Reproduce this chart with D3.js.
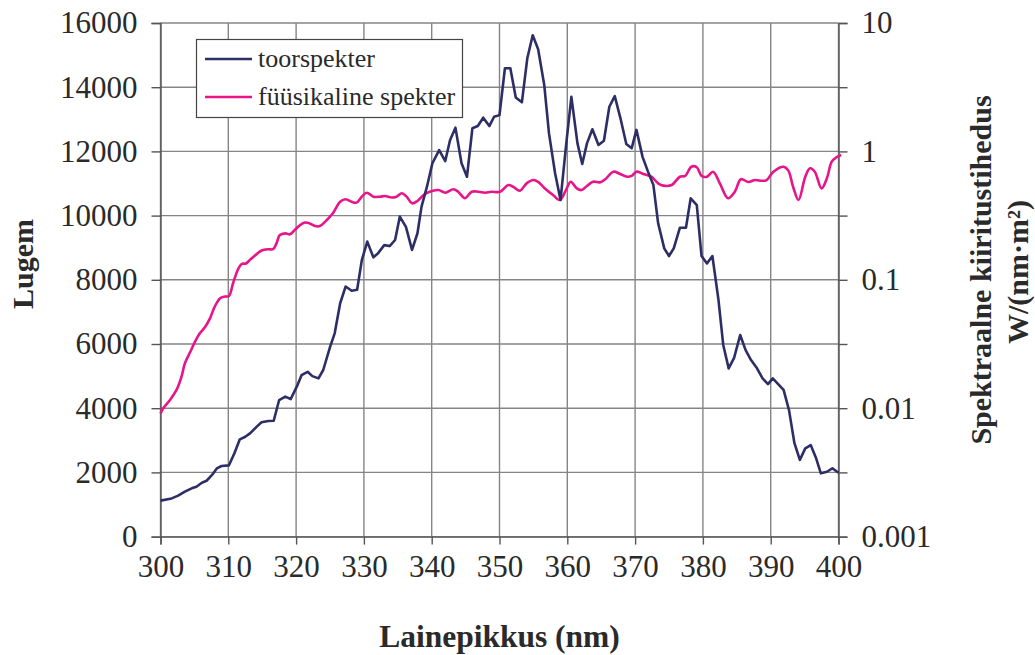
<!DOCTYPE html>
<html><head><meta charset="utf-8">
<script src="https://cdn.jsdelivr.net/npm/d3@7/dist/d3.min.js"></script>
<style>
body{margin:0;background:#fff;}
svg text{font-family:"Liberation Serif","Times New Roman",serif;fill:#2a2a2a;}
</style></head>
<body><svg id="c" width="1035" height="655"></svg>
<script>
// ---- data ----
const toorWl = [300,301.65,302.6,303.6,304.6,305.3,306.1,306.8,307.6,308.3,309,310.1,310.9,311.7,312.5,313.2,314.2,314.9,315.9,316.7,317.5,318.4,319.2,320.1,320.8,321.7,322.4,323.3,324,325,325.7,326.5,327.3,328.2,329,329.7,330.5,331.4,332.1,333,333.8,334.6,335.3,336.2,337.1,337.9,338.5,339.3,340.1,341.1,342,342.7,343.5,344.4,345.2,346,346.8,347.6,348.5,349.2,350,350.8,351.6,352.4,353.3,354.1,354.9,355.7,356.6,357.3,358.2,359,359.8,360.6,361.5,362.2,362.9,363.7,364.6,365.4,366.2,367,367.9,368.7,369.5,370.2,371.1,371.9,372.7,373.4,374.3,375,375.7,376.6,377.5,378.2,379.1,379.8,380.6,381.4,382.3,383,383.8,384.6,385.5,386.3,387.1,387.9,388.8,389.6,390.3,391.1,391.9,392.7,393.5,394.3,395.1,395.9,396.7,397.4,398.3,399.1,400];
const toorVal = [1120,1190,1275,1400,1505,1555,1680,1740,1920,2125,2200,2220,2595,3030,3110,3215,3425,3560,3600,3610,4255,4360,4285,4670,5030,5135,5000,4930,5190,5900,6340,7270,7790,7660,7690,8620,9190,8700,8830,9080,9050,9240,9970,9650,8930,9450,10280,10900,11630,12040,11700,12350,12740,11630,11210,12720,12790,13050,12790,13080,13130,14590,14590,13680,13530,14900,15620,15180,14070,12560,11320,10485,12150,13700,12250,11610,12250,12690,12200,12330,13390,13720,12980,12230,12100,12670,11830,11370,10950,9760,8980,8740,8980,9620,9620,10540,10330,8740,8510,8740,7370,5970,5240,5570,6280,5810,5500,5270,4930,4750,4930,4750,4570,3940,2910,2390,2750,2850,2440,1970,2020,2130,1990];

const fysWl = [300,300.4,301.4,302.4,303.1,303.6,304.4,305.1,305.8,306.6,307.3,308,308.8,309.5,310.1,310.7,311.5,312,312.6,313.2,313.9,314.9,315.9,316.6,317.1,317.6,318.4,319.1,319.8,320.6,321.3,322,322.8,323.5,324.3,325,325.5,326.5,327.3,328.2,328.9,329.7,330.4,331.4,332.4,333.1,334.1,334.8,335.6,336.3,337.1,337.9,338.8,339.7,341,342,343.2,343.9,344.9,345.9,346.9,347.9,348.8,350.1,351.3,352,353,354,355,355.7,356.7,357.9,358.9,359.8,360.5,361.4,362.1,362.9,363.8,364.8,365.6,366.8,367.8,368.8,369.5,370.2,371.2,372.4,373.4,374.2,375.4,376.6,377.4,378.3,379.1,379.8,380.6,381.5,382.5,383.7,384.7,385.6,386.7,387.7,388.7,389.4,390.4,391.9,392.6,393.3,394.1,395.1,395.8,396.5,397.5,398.3,399,399.7,400.4];
const fysVal = [0.0091,0.00998,0.0116,0.0140,0.0176,0.0224,0.0275,0.0330,0.0383,0.0431,0.0501,0.0618,0.0718,0.0740,0.0749,0.094,0.123,0.133,0.134,0.143,0.154,0.169,0.173,0.173,0.192,0.223,0.230,0.226,0.244,0.267,0.279,0.275,0.262,0.262,0.284,0.31,0.334,0.405,0.424,0.405,0.399,0.444,0.477,0.444,0.444,0.449,0.438,0.444,0.472,0.444,0.394,0.411,0.457,0.485,0.500,0.477,0.507,0.485,0.432,0.485,0.485,0.477,0.485,0.485,0.547,0.531,0.494,0.564,0.598,0.578,0.515,0.457,0.418,0.500,0.581,0.515,0.500,0.538,0.581,0.574,0.607,0.695,0.667,0.635,0.645,0.695,0.667,0.635,0.564,0.541,0.547,0.635,0.645,0.760,0.753,0.645,0.635,0.695,0.564,0.432,0.485,0.607,0.578,0.598,0.590,0.598,0.695,0.760,0.708,0.531,0.418,0.635,0.738,0.695,0.515,0.620,0.832,0.900,0.937];

const xTicks = [300,310,320,330,340,350,360,370,380,390,400];
const yLeftTicks = [0,2000,4000,6000,8000,10000,12000,14000,16000];
const yRightLabels = [0.001,0.01,0.1,1,10];
const seriesNames = ["toorspekter","füüsikaline spekter"];
const seriesColors = ["#2e2e66","#e8148a"];

// ---- layout ----
const L = 160.5, R = 838.5, T = 23, B = 536.6;
const svg = d3.select("#c");
const x = d3.scaleLinear().domain([300,400]).range([L,R]);
const yL = d3.scaleLinear().domain([0,16000]).range([B,T]);
const yR = d3.scaleLog().domain([0.001,10]).range([B,T]);

const grid = svg.append("g").attr("stroke","#858585").attr("stroke-width",1.4);
grid.selectAll("line.h").data(yLeftTicks).join("line")
  .attr("x1",L).attr("x2",R).attr("y1",d=>yL(d)).attr("y2",d=>yL(d));
grid.selectAll("line.v").data(xTicks).join("line")
  .attr("x1",d=>x(d)).attr("x2",d=>x(d)).attr("y1",T).attr("y2",B);

// axes
const fs = 31;
const ax = svg.append("g");
const left = ax.append("g").attr("transform",`translate(${L},0)`)
  .call(d3.axisLeft(yL).tickValues(yLeftTicks).tickSize(9).tickPadding(14).tickFormat(d3.format("d")));
const bottom = ax.append("g").attr("transform",`translate(0,${B})`)
  .call(d3.axisBottom(x).tickValues(xTicks).tickSize(8).tickPadding(10));
// right axis: ticks at each grid row, labels at decades
const rightTickVals = yLeftTicks.map(d=>yR.invert(yL(d)));
const right = ax.append("g").attr("transform",`translate(${R},0)`)
  .call(d3.axisRight(yR).tickValues(rightTickVals).tickSize(9).tickPadding(14)
    .tickFormat(d=>{const m=yRightLabels.find(v=>Math.abs(Math.log10(v)-Math.log10(d))<1e-6);return m===undefined?"":String(m);}));
[left,bottom,right].forEach(g=>{
  g.selectAll("path").attr("stroke","#555").attr("stroke-width",1.4);
  g.selectAll("line").attr("stroke","#555").attr("stroke-width",1.4);
  g.selectAll("text").attr("font-size",fs).attr("font-family","Liberation Serif").attr("fill","#2a2a2a");
});

// lines
const toor = toorWl.map((w,i)=>[w,toorVal[i]]);
const fys = fysWl.map((w,i)=>[w,fysVal[i]]);
svg.append("path").datum(fys).attr("fill","none").attr("stroke",seriesColors[1]).attr("stroke-width",2.6)
  .attr("stroke-linejoin","round")
  .attr("d",d3.line().x(d=>x(d[0])).y(d=>yR(d[1])).curve(d3.curveCatmullRom.alpha(0.5)));
svg.append("path").datum(toor).attr("fill","none").attr("stroke",seriesColors[0]).attr("stroke-width",2.6)
  .attr("stroke-linejoin","round")
  .attr("d",d3.line().x(d=>x(d[0])).y(d=>yL(d[1])));

// legend
const lg = svg.append("g");
lg.append("rect").attr("x",196.5).attr("y",39.5).attr("width",266).attr("height",78)
  .attr("fill","#fff").attr("stroke","#444").attr("stroke-width",1.2);
seriesNames.forEach((n,i)=>{
  const yy = 59 + i*38;
  lg.append("line").attr("x1",205).attr("x2",252).attr("y1",yy).attr("y2",yy)
    .attr("stroke",seriesColors[i]).attr("stroke-width",2.6);
  lg.append("text").attr("x",258).attr("y",yy).attr("dy","0.32em").attr("font-size",26).text(n);
});

// titles
svg.append("text").attr("x",(L+R)/2).attr("y",636).attr("dy","0.35em").attr("text-anchor","middle")
  .attr("font-size",31.5).attr("font-weight","bold").text("Lainepikkus (nm)");
svg.append("text").attr("transform","translate(22,264) rotate(-90)").attr("dy","0.35em").attr("text-anchor","middle")
  .attr("font-size",30).attr("font-weight","bold").text("Lugem");
svg.append("text").attr("transform","translate(980,270) rotate(-90)").attr("dy","0.35em").attr("text-anchor","middle")
  .attr("font-size",30).attr("font-weight","bold").text("Spektraalne kiiritustihedus");
svg.append("text").attr("transform","translate(1017,272) rotate(-90)").attr("dy","0.35em").attr("text-anchor","middle")
  .attr("font-size",30).attr("font-weight","bold").text("W/(nm·m²)");
</script></body></html>
